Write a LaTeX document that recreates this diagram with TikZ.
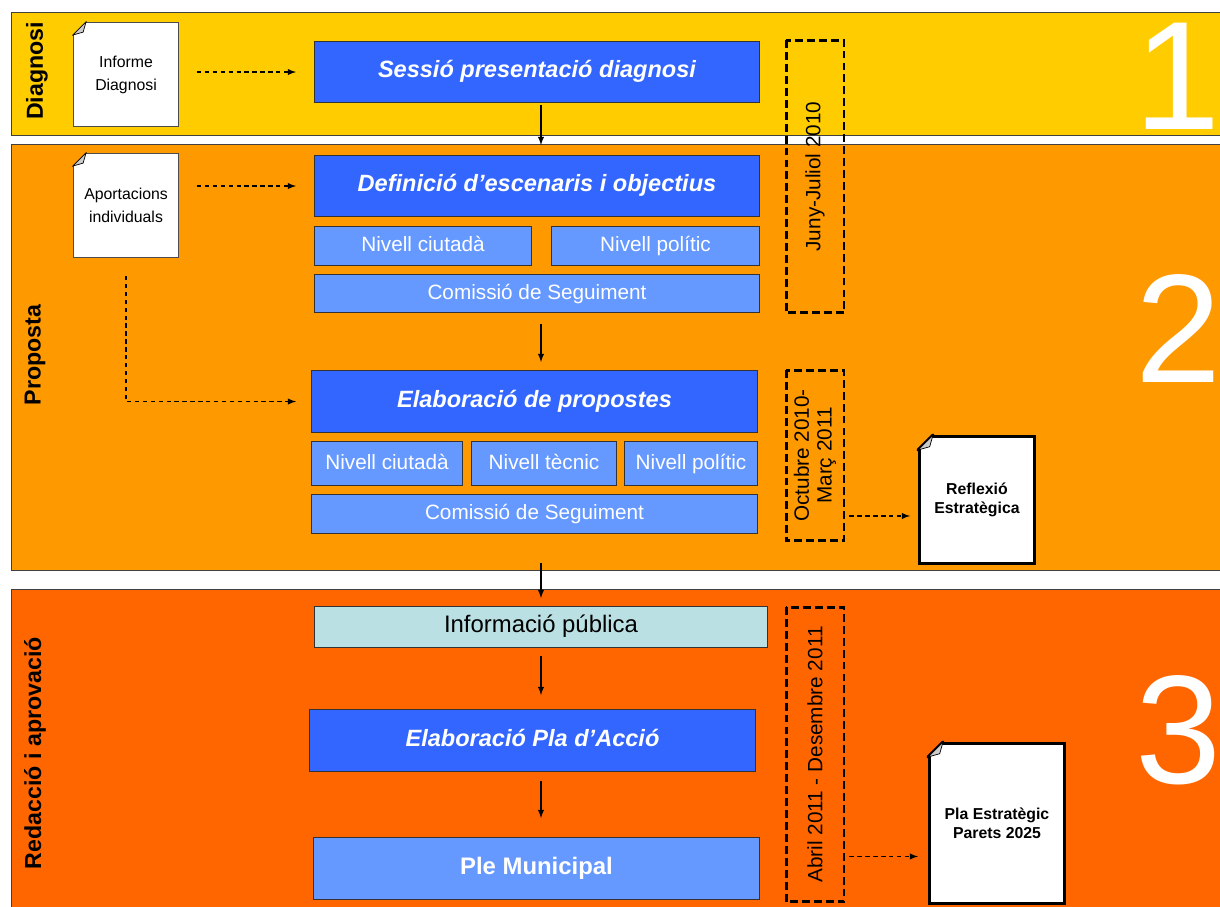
\documentclass[tikz,border=0pt]{standalone}
\usepackage{fontspec}
\setmainfont{Liberation Sans}
\usetikzlibrary{arrows}
\definecolor{diagcol}{HTML}{FFCC00}
\definecolor{propcol}{HTML}{FF9900}
\definecolor{redcol}{HTML}{FF6600}
\definecolor{darkblue}{HTML}{3366FF}
\definecolor{lightblue}{HTML}{6699FF}
\definecolor{infocol}{HTML}{BBE0E3}

\newcommand{\docfold}[4]{%
	\fill[#3] ([shift={(-3pt,3pt)}]#1.north west) -- ([shift={(#2+3pt,3pt)}]#1.north west) -- ([shift={(-3pt,-#2-3pt)}]#1.north west) -- cycle;
	\draw[line width=#4,line cap=round] ([xshift=#2]#1.north west) -- ([yshift=-#2]#1.north west);
	\filldraw[fill=gray!40,draw=black,line width=0.4pt] ([xshift=#2]#1.north west) -- ([yshift=-#2]#1.north west) -- ([shift={(0.78*#2,-0.78*#2)}]#1.north west) -- cycle;
}

\begin{document}
\begin{tikzpicture}[
	x=0.02cm,y=-0.02cm,
	band/.style={draw=black!75,line width=0.6pt,anchor=north west,inner sep=0pt,minimum width=24.6cm},
	bandlabel/.style={rotate=90,font=\fontsize{13.2}{15}\selectfont\bfseries},
	bignum/.style={anchor=base,text=white,font=\fontsize{88}{88}\selectfont},
	mainbox/.style={draw=black!80,line width=0.6pt,fill=darkblue,text=white,anchor=north west,inner sep=0pt,text height=1.6ex,text depth=0.4ex,font=\fontsize{13.4}{15}\selectfont\bfseries\itshape},
	subbox/.style={draw=black!80,line width=0.6pt,fill=lightblue,text=white,anchor=north west,inner sep=0pt,text height=1.6ex,text depth=0.4ex,font=\fontsize{11.8}{14}\selectfont},
	docbox/.style={draw=black!70,line width=0.6pt,fill=white,anchor=north west,inner sep=0pt,align=center,font=\fontsize{9}{13}\selectfont},
	bigdoc/.style={draw=black,line width=1.7pt,fill=white,anchor=north west,inner sep=0pt,align=center,font=\fontsize{9}{11}\selectfont\bfseries},
	datebox/.style={draw,line width=1.7pt,dash pattern=on 4.5pt off 2.3pt,rotate=90,minimum height=1.16cm,inner sep=0pt,align=center,font=\fontsize{11.8}{13}\selectfont},
	flow/.style={-latex,line width=0.6pt},
	dasharrow/.style={-latex,line width=0.6pt,dash pattern=on 2.5pt off 2pt}
	]
	\useasboundingbox (0,0) rectangle (1220,906);
	\clip (0,0) rectangle (1220,906);
	\node[band,fill=diagcol,minimum height=2.46cm] (band1) at (11,12) {};
	\node[band,fill=propcol,minimum height=8.52cm] (band2) at (11,144) {};
	\node[band,fill=redcol,minimum height=6.62cm] (band3) at (11,589) {};
	\node[bandlabel] (lbldiag) at (37,71) {Diagnosi};
	\node[bandlabel] (lblprop) at (35,355) {Proposta};
	\node[bandlabel] (lblredac) at (35,753) {Redacció i aprovació};
	\node[bignum] (num1) at (1177,129) {1};
	\node[bignum] (num2) at (1178,382) {2};
	\node[bignum] (num3) at (1178,783) {3};

	\node[docbox,minimum width=2.1cm,minimum height=2.08cm] (informe) at (73,22) {Informe\\Diagnosi};
	\docfold{informe}{0.26cm}{diagcol}{0.6pt}
	\node[docbox,minimum width=2.1cm,minimum height=2.08cm] (aport) at (73,153) {Aportacions\\individuals};
	\docfold{aport}{0.26cm}{propcol}{0.6pt}
	\node[bigdoc,minimum width=2.3cm,minimum height=2.54cm] (reflexio) at (918,435) {Reflexió\\Estratègica};
	\docfold{reflexio}{0.3cm}{propcol}{1.7pt}
	\node[bigdoc,minimum width=2.7cm,minimum height=3.2cm] (plaest) at (928,742) {Pla Estratègic\\Parets 2025};
	\docfold{plaest}{0.3cm}{redcol}{1.7pt}

	\node[mainbox,minimum width=8.9cm,minimum height=1.22cm] (sessio) at (314,41) {Sessió presentació diagnosi};
	\node[mainbox,minimum width=8.9cm,minimum height=1.22cm] (definicio) at (314,155) {Definició d’escenaris i objectius};
	\node[subbox,minimum width=4.34cm,minimum height=0.78cm] (ciut1) at (314,226) {Nivell ciutadà};
	\node[subbox,minimum width=4.16cm,minimum height=0.78cm] (polit1) at (551,226) {Nivell polític};
	\node[subbox,minimum width=8.9cm,minimum height=0.76cm] (comis1) at (314,274) {Comissió de Seguiment};
	\node[mainbox,minimum width=8.92cm,minimum height=1.24cm] (elab) at (311,370) {Elaboració de propostes};
	\node[subbox,minimum width=3.02cm,minimum height=0.88cm] (ciut2) at (311,441) {Nivell ciutadà};
	\node[subbox,minimum width=2.9cm,minimum height=0.88cm] (tecn2) at (471,441) {Nivell tècnic};
	\node[subbox,minimum width=2.66cm,minimum height=0.88cm] (polit2) at (624,441) {Nivell polític};
	\node[subbox,minimum width=8.92cm,minimum height=0.78cm] (comis2) at (311,494) {Comissió de Seguiment};
	\node[subbox,fill=infocol,text=black,font=\fontsize{13.6}{15}\selectfont,minimum width=9.06cm,minimum height=0.82cm] (infopub) at (314,606) {Informació pública};
	\node[mainbox,minimum width=8.92cm,minimum height=1.24cm] (elabpla) at (309,709) {Elaboració Pla d’Acció};
	\node[subbox,font=\fontsize{13.6}{15}\selectfont\bfseries,minimum width=8.92cm,minimum height=1.24cm] (ple) at (313,837) {Ple Municipal};

	\node[datebox,minimum width=5.46cm] (dateone) at (815,176.5) {Juny-Juliol 2010};
	\node[datebox,minimum width=3.42cm] (datetwo) at (815,455.5) {Octubre 2010-\\Març 2011};
	\node[datebox,minimum width=5.9cm] (datethree) at (815,754.5) {Abril 2011 - Desembre 2011};
	\coordinate (reflin) at ([yshift=-0.32cm]reflexio.west);
	\coordinate (plain) at ([yshift=-0.66cm]plaest.west);

	\draw[flow,shorten <=1pt,shorten >=0.2cm] (sessio.south -| infopub.north) -- (definicio.north -| infopub.north);
	\draw[flow,shorten <=0.22cm,shorten >=0.16cm] (comis1.south -| infopub.north) -- (elab.north -| infopub.north);
	\draw[flow,shorten <=0.58cm,shorten >=0.16cm] (comis2.south -| infopub.north) -- (infopub.north);
	\draw[flow,shorten <=0.16cm,shorten >=0.28cm] (infopub.south) -- (infopub.south |- elabpla.north);
	\draw[flow,shorten <=0.18cm,shorten >=0.38cm] (elabpla.south -| infopub.south) -- (infopub.south |- ple.north);

	\draw[dasharrow,shorten <=0.36cm,shorten >=0.36cm] (informe.east |- sessio.west) -- (sessio.west);
	\draw[dasharrow,shorten <=0.36cm,shorten >=0.36cm] (aport.east |- definicio.west) -- (definicio.west);
	\draw[dasharrow,shorten <=0.36cm,shorten >=0.3cm] (aport.south) |- (elab.west);
	\draw[dasharrow,shorten <=0.08cm,shorten >=0.16cm] (datetwo.south |- reflin) -- (reflin);
	\draw[dasharrow,shorten <=0.08cm,shorten >=0.2cm] (datethree.south |- plain) -- (plain);
\end{tikzpicture}
\end{document}
